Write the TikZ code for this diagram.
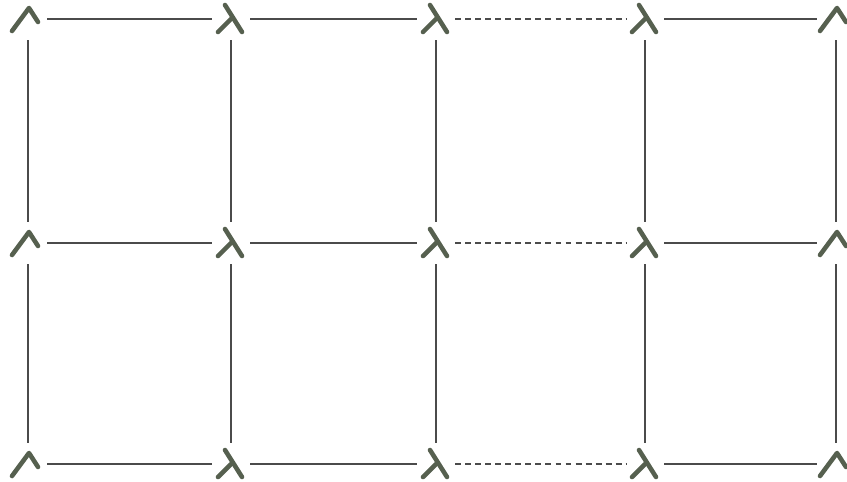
\documentclass[tikz,border=0pt]{standalone}
\usepackage{tikz}
\usetikzlibrary{arrows.meta,positioning,calc}
\usepackage{xcolor}
\definecolor{barcol}{HTML}{4B4B4B}
\definecolor{jointcol}{HTML}{56604F}

\begin{document}
\begin{tikzpicture}[x=0.02cm, y=-0.02cm,
    joint/.style={rectangle, minimum width=0.76cm, minimum height=0.84cm,
                  inner sep=0pt},
    endjoint/.style={joint, path picture={
        \draw[jointcol, line width=2.6pt, line cap=round, line join=round]
          ([shift={(-16,12)}]path picture bounding box.center)
          -- ([shift={(1,-11)}]path picture bounding box.center)
          -- ([shift={(10,3)}]path picture bounding box.center);}},
    midjoint/.style={joint, path picture={
        \draw[jointcol, line width=2.6pt, line cap=round]
          ([shift={(-6,-14)}]path picture bounding box.center)
          -- ([shift={(11,13)}]path picture bounding box.center);
        \draw[jointcol, line width=2.6pt, line cap=round]
          ([shift={(-13,13)}]path picture bounding box.center)
          -- ([shift={(0,0)}]path picture bounding box.center);}},
    bar/.style={barcol, line width=1.5pt},
    gapbar/.style={barcol, line width=1.5pt, dash pattern=on 3.4pt off 2.3pt}]

\useasboundingbox (0,0) rectangle (847,481);

% joints
\foreach \r/\y in {0/19, 1/243, 2/464} {
  \foreach \c/\x/\s in {0/28/endjoint, 1/231/midjoint, 2/436/midjoint,
                        3/645/midjoint, 4/836/endjoint} {
    \node[\s] (j\c\r) at (\x, \y) {};
  }
}

% horizontal bars
\foreach \r in {0,1,2} {
  \draw[bar] (j0\r) -- (j1\r);
  \draw[bar] (j1\r) -- (j2\r);
  \draw[gapbar] (j2\r) -- (j3\r);
  \draw[bar] (j3\r) -- (j4\r);
}

% vertical bars
\foreach \c in {0,...,4} {
  \draw[bar] (j\c0) -- (j\c1);
  \draw[bar] (j\c1) -- (j\c2);
}
\end{tikzpicture}
\end{document}
